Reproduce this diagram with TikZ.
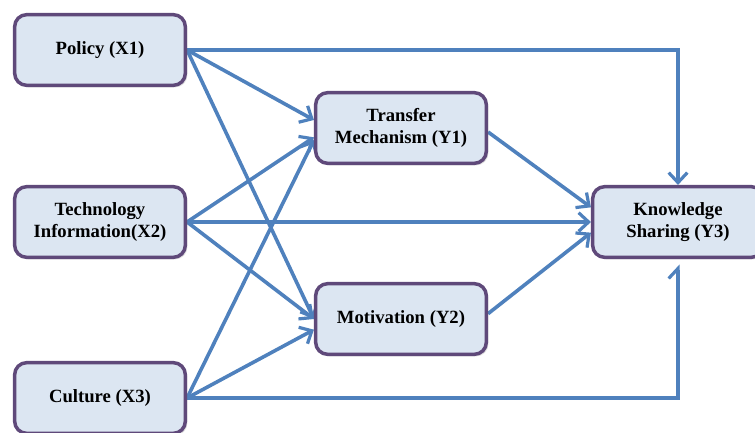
\documentclass[tikz,border=0pt]{standalone}
\usepackage{fontspec}
\setmainfont{Liberation Serif}
\usepackage{tikz}
\usetikzlibrary{positioning}
\usetikzlibrary{calc}
\usetikzlibrary{arrows.meta}
\usetikzlibrary{shadows}
\usetikzlibrary{backgrounds}
\definecolor{boxfill}{HTML}{DCE6F2}
\definecolor{boxline}{HTML}{5F497A}
\definecolor{arrblue}{HTML}{4F81BD}
\tikzset{box/.style={draw=boxline,line width=2.6pt,fill=boxfill,rounded corners=9pt,minimum width=128pt,minimum height=53pt,align=center,font=\bfseries\fontsize{14}{16.5}\selectfont,drop shadow={shadow xshift=1.5pt,shadow yshift=-1.5pt,opacity=0.25}},arr/.style={draw=arrblue,line width=2.7pt,-{Straight Barb[length=7.5pt,width=14pt,line width=2.4pt]}},harp/.style={draw=arrblue,line width=2.7pt,-{Straight Barb[harpoon,length=7.5pt,width=14pt,line width=2.4pt]}}}

\begin{document}
\begin{tikzpicture}[x=0.75pt,y=-0.75pt]
\useasboundingbox (0,0) rectangle (755,432);
\node (pol) at (100,50) [box] {Policy (X1)};
\node (tech) at (100,222) [box] {Technology\\Information(X2)};
\node (cul) at (100,398) [box] {Culture (X3)};
\node (tm) at (401,128) [box] {Transfer\\Mechanism (Y1)};
\node (mot) at (401,319) [box] {Motivation (Y2)};
\node (ks) at (678,222) [box] {Knowledge\\Sharing (Y3)};
\begin{scope}[on background layer]
\draw[arr] (pol.east) -- ([yshift=6pt]tm.west);
\draw[arr] (pol.east) -- (mot.west);
\draw[arr] (pol.east) -| (ks.north);
\draw[arr] (tech.east) -- ([yshift=-7pt]tm.west);
\draw[arr] (tech.east) -- (mot.west);
\draw[arr] (tech.east) -- (ks.west);
\draw[arr] (cul.east) -- ([yshift=-9pt]tm.west);
\draw[arr] (cul.east) -- ([yshift=-8pt]mot.west);
\draw[harp] (cul.east) -| ([yshift=-4pt]ks.south);
\draw[arr] ([yshift=-3pt]tm.east) -- ([yshift=11pt]ks.west);
\draw[arr] ([yshift=4pt]mot.east) -- ([yshift=-8pt]ks.west);
\end{scope}
\end{tikzpicture}
\end{document}
